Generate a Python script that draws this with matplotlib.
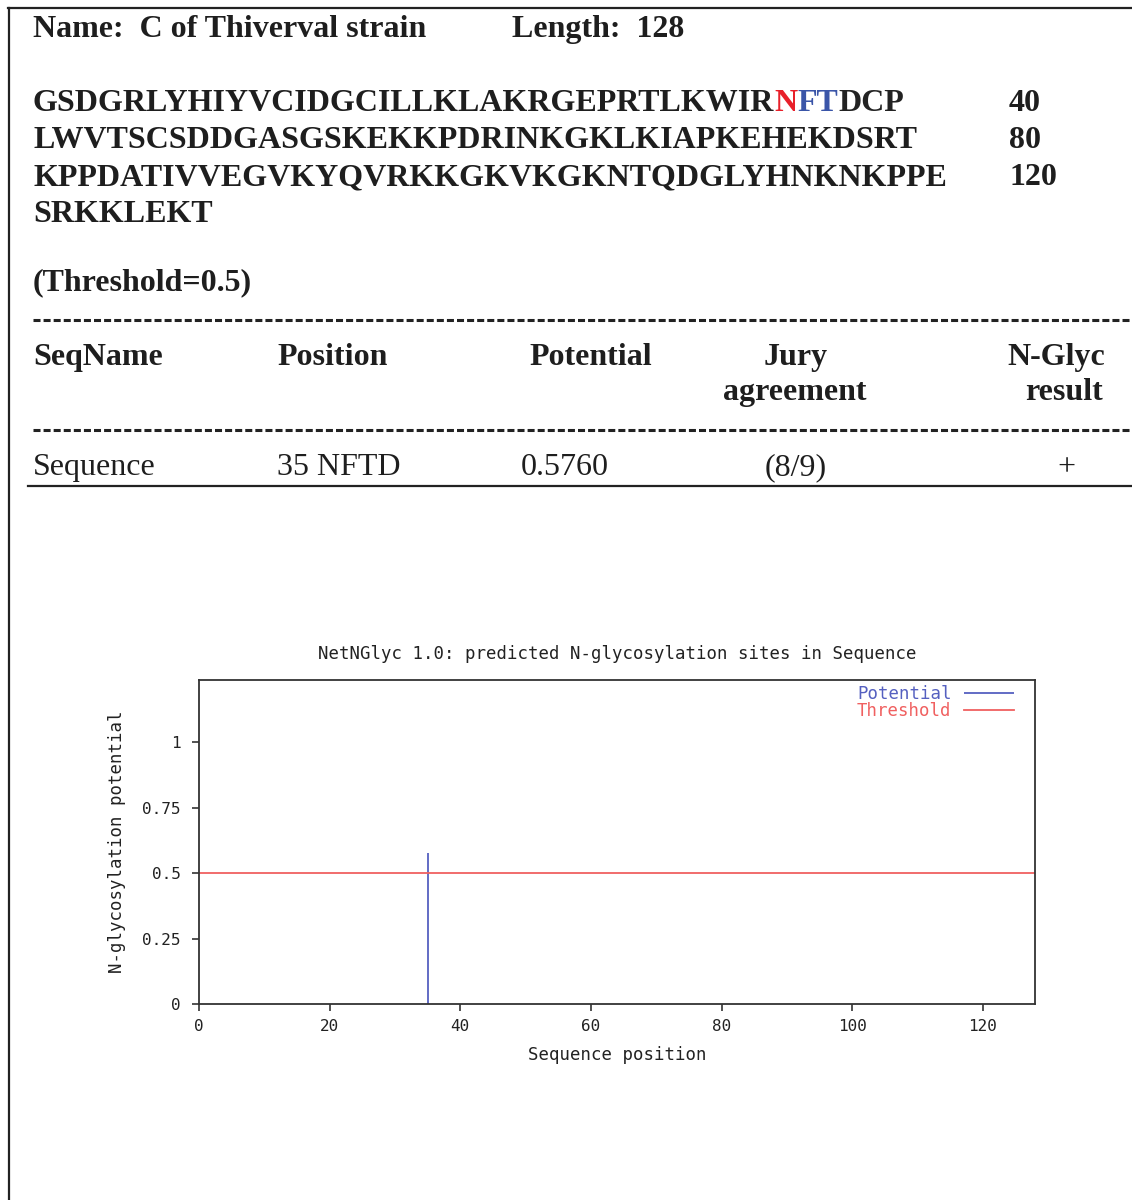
import matplotlib
matplotlib.use('Agg')
import matplotlib.pyplot as plt
from matplotlib.lines import Line2D

# Entrada de la secuencia y resultados de NetNGlyc
seq_name = 'C of Thiverval strain'
seq_length = 128
seq_lines = ['GSDGRLYHIYVCIDGCILLKLAKRGEPRTLKWIR',
             'LWVTSCSDDGASGSKEKKPDRINKGKLKIAPKEHEKDSRT',
             'KPPDATIVVEGVKYQVRKKGKVKGKNTQDGLYHNKNKPPE',
             'SRKKLEKT']
seq_counts = ['40', '80', '120', '']
# sitio de glicosilacion de la linea 1 (N en rojo, FT en azul)
linea1_partes = [('N', '#e8202a'), ('FT', '#3a55a8'), ('DCP', '#222222')]
threshold = 0.5

headers = ['SeqName', 'Position', 'Potential', 'Jury\nagreement', 'N-Glyc\nresult']
row = ['Sequence', '35 NFTD', '0.5760', '(8/9)', '+']

positions = [35]
potentials = [0.576]

W, H = 1132, 1200
fig = plt.figure(figsize=(W / 100, H / 100), dpi=100)
renderer = fig.canvas.get_renderer()

serif = 'Liberation Serif'
mono = 'DejaVu Sans Mono'
fs = 23
fs_mono = 12.5


def px(x, y):
    return x / W, 1 - y / H


def texto(x, y, s, **kw):
    kw.setdefault('family', serif)
    kw.setdefault('fontsize', fs)
    kw.setdefault('fontweight', 'bold')
    kw.setdefault('va', 'baseline')
    kw.setdefault('color', '#1e1e1e')
    return fig.text(*px(x, y), s, **kw)


# marco exterior
fig.add_artist(Line2D([9 / W, 9 / W], [1 - 8 / H, 0], color='#222222', lw=1.6))
fig.add_artist(Line2D([8 / W, 1], [1 - 8 / H, 1 - 8 / H], color='#222222', lw=1.6))

texto(33, 37, 'Name:  ' + seq_name)
texto(512, 37, 'Length:  ' + str(seq_length))

# secuencia, con el sitio NFT resaltado
baselines = [111, 148, 185, 222]
t = texto(33, baselines[0], seq_lines[0])
for parte, color in linea1_partes:
    x_fin = t.get_window_extent(renderer).x1
    t = texto(x_fin, baselines[0], parte, color=color)
for i, linea in enumerate(seq_lines[1:], start=1):
    texto(33, baselines[i], linea)
for i, c in enumerate(seq_counts):
    if c:
        texto(1009, baselines[i], c)

texto(33, 290, '(Threshold=%s)' % threshold)


# tabla de resultados
def guiones(y):
    fig.add_artist(Line2D([33 / W, 1130 / W], [1 - y / H, 1 - y / H], color='#222222',
                          lw=2.2, dashes=(2.3, 1.0), dash_capstyle='butt'))


guiones(320)
guiones(430)
fig.add_artist(Line2D([28 / W, 1], [1 - 486 / H, 1 - 486 / H], color='#222222', lw=1.6))

texto(33, 365, headers[0])
texto(277, 365, headers[1])
texto(529, 365, headers[2])
jury1, jury2 = headers[3].split('\n')
texto(796, 365, jury1, ha='center')
texto(795, 400, jury2, ha='center')
ng1, ng2 = headers[4].split('\n')
texto(1105, 365, ng1, ha='right')
texto(1103, 400, ng2, ha='right')

row_x = [33, 277, 521, 796, 1066]
row_ha = ['left', 'left', 'left', 'center', 'center']
for x, s, ha in zip(row_x, row, row_ha):
    texto(x, 475, s, fontweight='normal', ha=ha)

# grafico NetNGlyc
ax = fig.add_axes([199 / W, 1 - 1004 / H, (1035 - 199) / W, (1004 - 680) / H])
pot_color = '#5560c0'
thr_color = '#f06060'
ax.vlines(positions, 0, potentials, color=pot_color, lw=1.3, label='Potential')
ax.axhline(threshold, color=thr_color, lw=1.3, label='Threshold')
ax.set_xlim(0, seq_length)
ax.set_ylim(0, 1.237)
ax.set_xticks([0, 20, 40, 60, 80, 100, 120])
ax.set_yticks([0, 0.25, 0.5, 0.75, 1])
ax.set_yticklabels(['0', '0.25', '0.5', '0.75', '1'])
for sp in ax.spines.values():
    sp.set_color('#333333')
    sp.set_linewidth(1.3)
ax.tick_params(length=5, width=1.2, color='#333333', labelsize=fs_mono - 1,
               labelcolor='#222222', pad=6)
ax.tick_params(axis='y', pad=8)
for lab in ax.get_xticklabels() + ax.get_yticklabels():
    lab.set_family(mono)
ax.set_title('NetNGlyc 1.0: predicted N-glycosylation sites in Sequence',
             family=mono, fontsize=fs_mono, pad=15, color='#222222')
ax.set_xlabel('Sequence position', family=mono, fontsize=fs_mono, color='#222222')
ax.set_ylabel('N-glycosylation potential', family=mono, fontsize=fs_mono, color='#222222')
ax.xaxis.set_label_coords(0.5, -0.13)
ax.yaxis.set_label_coords(-0.087, 0.5)
leg = ax.legend(loc='upper right', bbox_to_anchor=(0.977, 0.99), frameon=False,
                markerfirst=False, prop={'family': mono, 'size': fs_mono},
                handlelength=2.9, handletextpad=0.7, labelspacing=-0.05,
                borderaxespad=0.0, borderpad=0.1)
for txt, col in zip(leg.get_texts(), [pot_color, thr_color]):
    txt.set_color(col)

fig.savefig('out.png', dpi=100)
